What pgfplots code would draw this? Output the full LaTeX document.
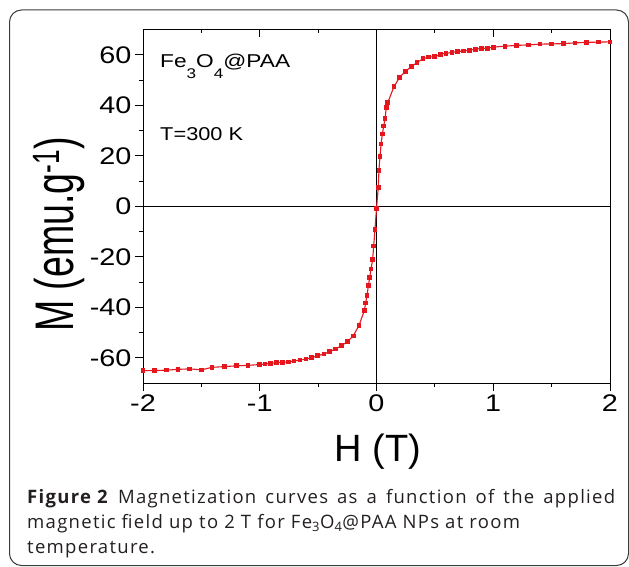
\documentclass[border=0pt]{standalone}
\usepackage{pgfplots}
\pgfplotsset{compat=1.18}
\usepackage{pgfplotstable}
\usepackage{fontspec}
\setmainfont{Liberation Sans}
\newfontfamily\capfont[LetterSpace=7]{Open Sans}
\definecolor{curvered}{RGB}{228,22,30}
\definecolor{framegray}{RGB}{60,60,60}
\definecolor{captext}{RGB}{35,31,32}

\pgfplotstableread{
H M
-2.00 -65.1
-1.90 -65.1
-1.80 -64.9
-1.70 -64.6
-1.60 -64.4
-1.50 -64.8
-1.41 -63.8
-1.30 -63.5
-1.20 -63.2
-1.10 -63.0
-1.00 -62.7
-0.955 -62.5
-0.906 -62.2
-0.855 -61.9
-0.807 -61.8
-0.755 -61.7
-0.707 -61.3
-0.655 -60.9
-0.604 -60.5
-0.555 -60.0
-0.504 -59.2
-0.45 -58.5
-0.40 -57.6
-0.35 -56.5
-0.30 -55.2
-0.25 -53.7
-0.20 -51.4
-0.15 -47.2
-0.104 -41.3
-0.093 -38.3
-0.081 -35.4
-0.070 -31.5
-0.058 -28.2
-0.047 -24.9
-0.033 -21.0
-0.024 -15.7
-0.013 -9.2
0.000 -1.0
0.015 7.5
0.021 14.2
0.030 19.8
0.039 24.6
0.050 28.6
0.062 31.8
0.073 34.8
0.084 39.1
0.096 41.0
0.150 47.4
0.199 51.1
0.247 53.4
0.298 55.3
0.347 56.9
0.398 58.4
0.447 59.1
0.498 59.2
0.547 60.2
0.595 60.6
0.647 60.9
0.695 61.3
0.747 61.5
0.795 61.8
0.847 62.2
0.898 62.5
0.949 62.6
1.00 63.0
1.10 63.4
1.20 63.7
1.30 63.9
1.40 64.2
1.50 64.3
1.60 64.4
1.70 64.7
1.80 64.9
1.90 65.0
2.00 65.1
}\datatable

\pgfplotsset{
  baseaxis/.style={
    at={(143pt,183pt)}, anchor=south west,
    width=467pt, height=353.5pt, scale only axis,
    xmin=-2, xmax=2, ymin=-70, ymax=70,
    xtick={-2,-1,0,1,2},
    minor x tick num=1,
    major tick length=8pt, minor tick length=4pt,
    axis line style={black, line width=1pt},
    every tick/.style={black, line width=0.9pt},
  }
}

\begin{document}
\begin{tikzpicture}
\useasboundingbox (0,0) rectangle (629pt,566pt);
\draw[framegray, line width=1pt, rounded corners=12pt] (9.5pt,0.5pt) rectangle (628.5pt,556pt);

\begin{axis}[baseaxis,
  ytick={-60,-40,-20,0,20,40,60},
  minor y tick num=1,
  xtick pos=left, ytick pos=left,
  tick align=outside,
  every tick label/.append style={font=\fontsize{24}{28}\selectfont},
  xticklabel={\scalebox{1.2}[1]{\pgfmathprintnumber[assume math mode=true]{\tick}}},
  yticklabel={\scalebox{1.2}[1]{\pgfmathprintnumber[assume math mode=true]{\tick}}},
  extra x ticks={0}, extra x tick labels={},
  extra y ticks={0}, extra y tick labels={},
  extra tick style={grid=major, major grid style={black, line width=0.8pt}, major tick length=0pt},
  xlabel={H (T)},
  xlabel style={font=\fontsize{38}{40}\selectfont, at={(axis description cs:0.503,-0.221)}, anchor=base},
  ylabel={\scalebox{1}[1.45]{M (emu.g\textsuperscript{-1})}},
  ylabel style={font=\fontsize{37.5}{40}\selectfont, at={(axis description cs:-0.18,0.42)}, anchor=center},
]
\addplot[curvered, line width=1.1pt, mark=square*, mark size=1.8pt, mark options={solid}] table[x=H, y=M] {\datatable};
\node[anchor=base west, inner sep=0pt, font=\fontsize{18.6}{20}\selectfont] at (axis cs:-1.854,54.9)
  {\scalebox{1.22}[1]{Fe\raisebox{-11pt}{\fontsize{14}{14}\selectfont 3}O\raisebox{-11pt}{\fontsize{14}{14}\selectfont 4}@PAA}};
\node[anchor=base west, inner sep=0pt, font=\fontsize{18.6}{20}\selectfont] at (axis cs:-1.854,26.0)
  {\scalebox{1.17}[1]{T=300 K}};
\end{axis}

\begin{axis}[baseaxis,
  hide y axis,
  xtick pos=right,
  tick align=inside,
  xticklabels={},
]
\end{axis}

\begin{scope}[font=\capfont\fontsize{18.5}{24}\selectfont, text=captext]
\node[anchor=base west, inner sep=0pt] at (27pt,63pt)
  {\makebox[588pt][s]{\hbox{\textbf{Figure 2}} Magnetization curves as a function of the applied}};
\node[anchor=base west, inner sep=0pt] at (27pt,38pt)
  {magnetic field up to 2 T for Fe\textsubscript{3}O\textsubscript{4}@PAA NPs at room};
\node[anchor=base west, inner sep=0pt] at (27pt,13pt)
  {temperature.};
\end{scope}
\end{tikzpicture}
\end{document}
